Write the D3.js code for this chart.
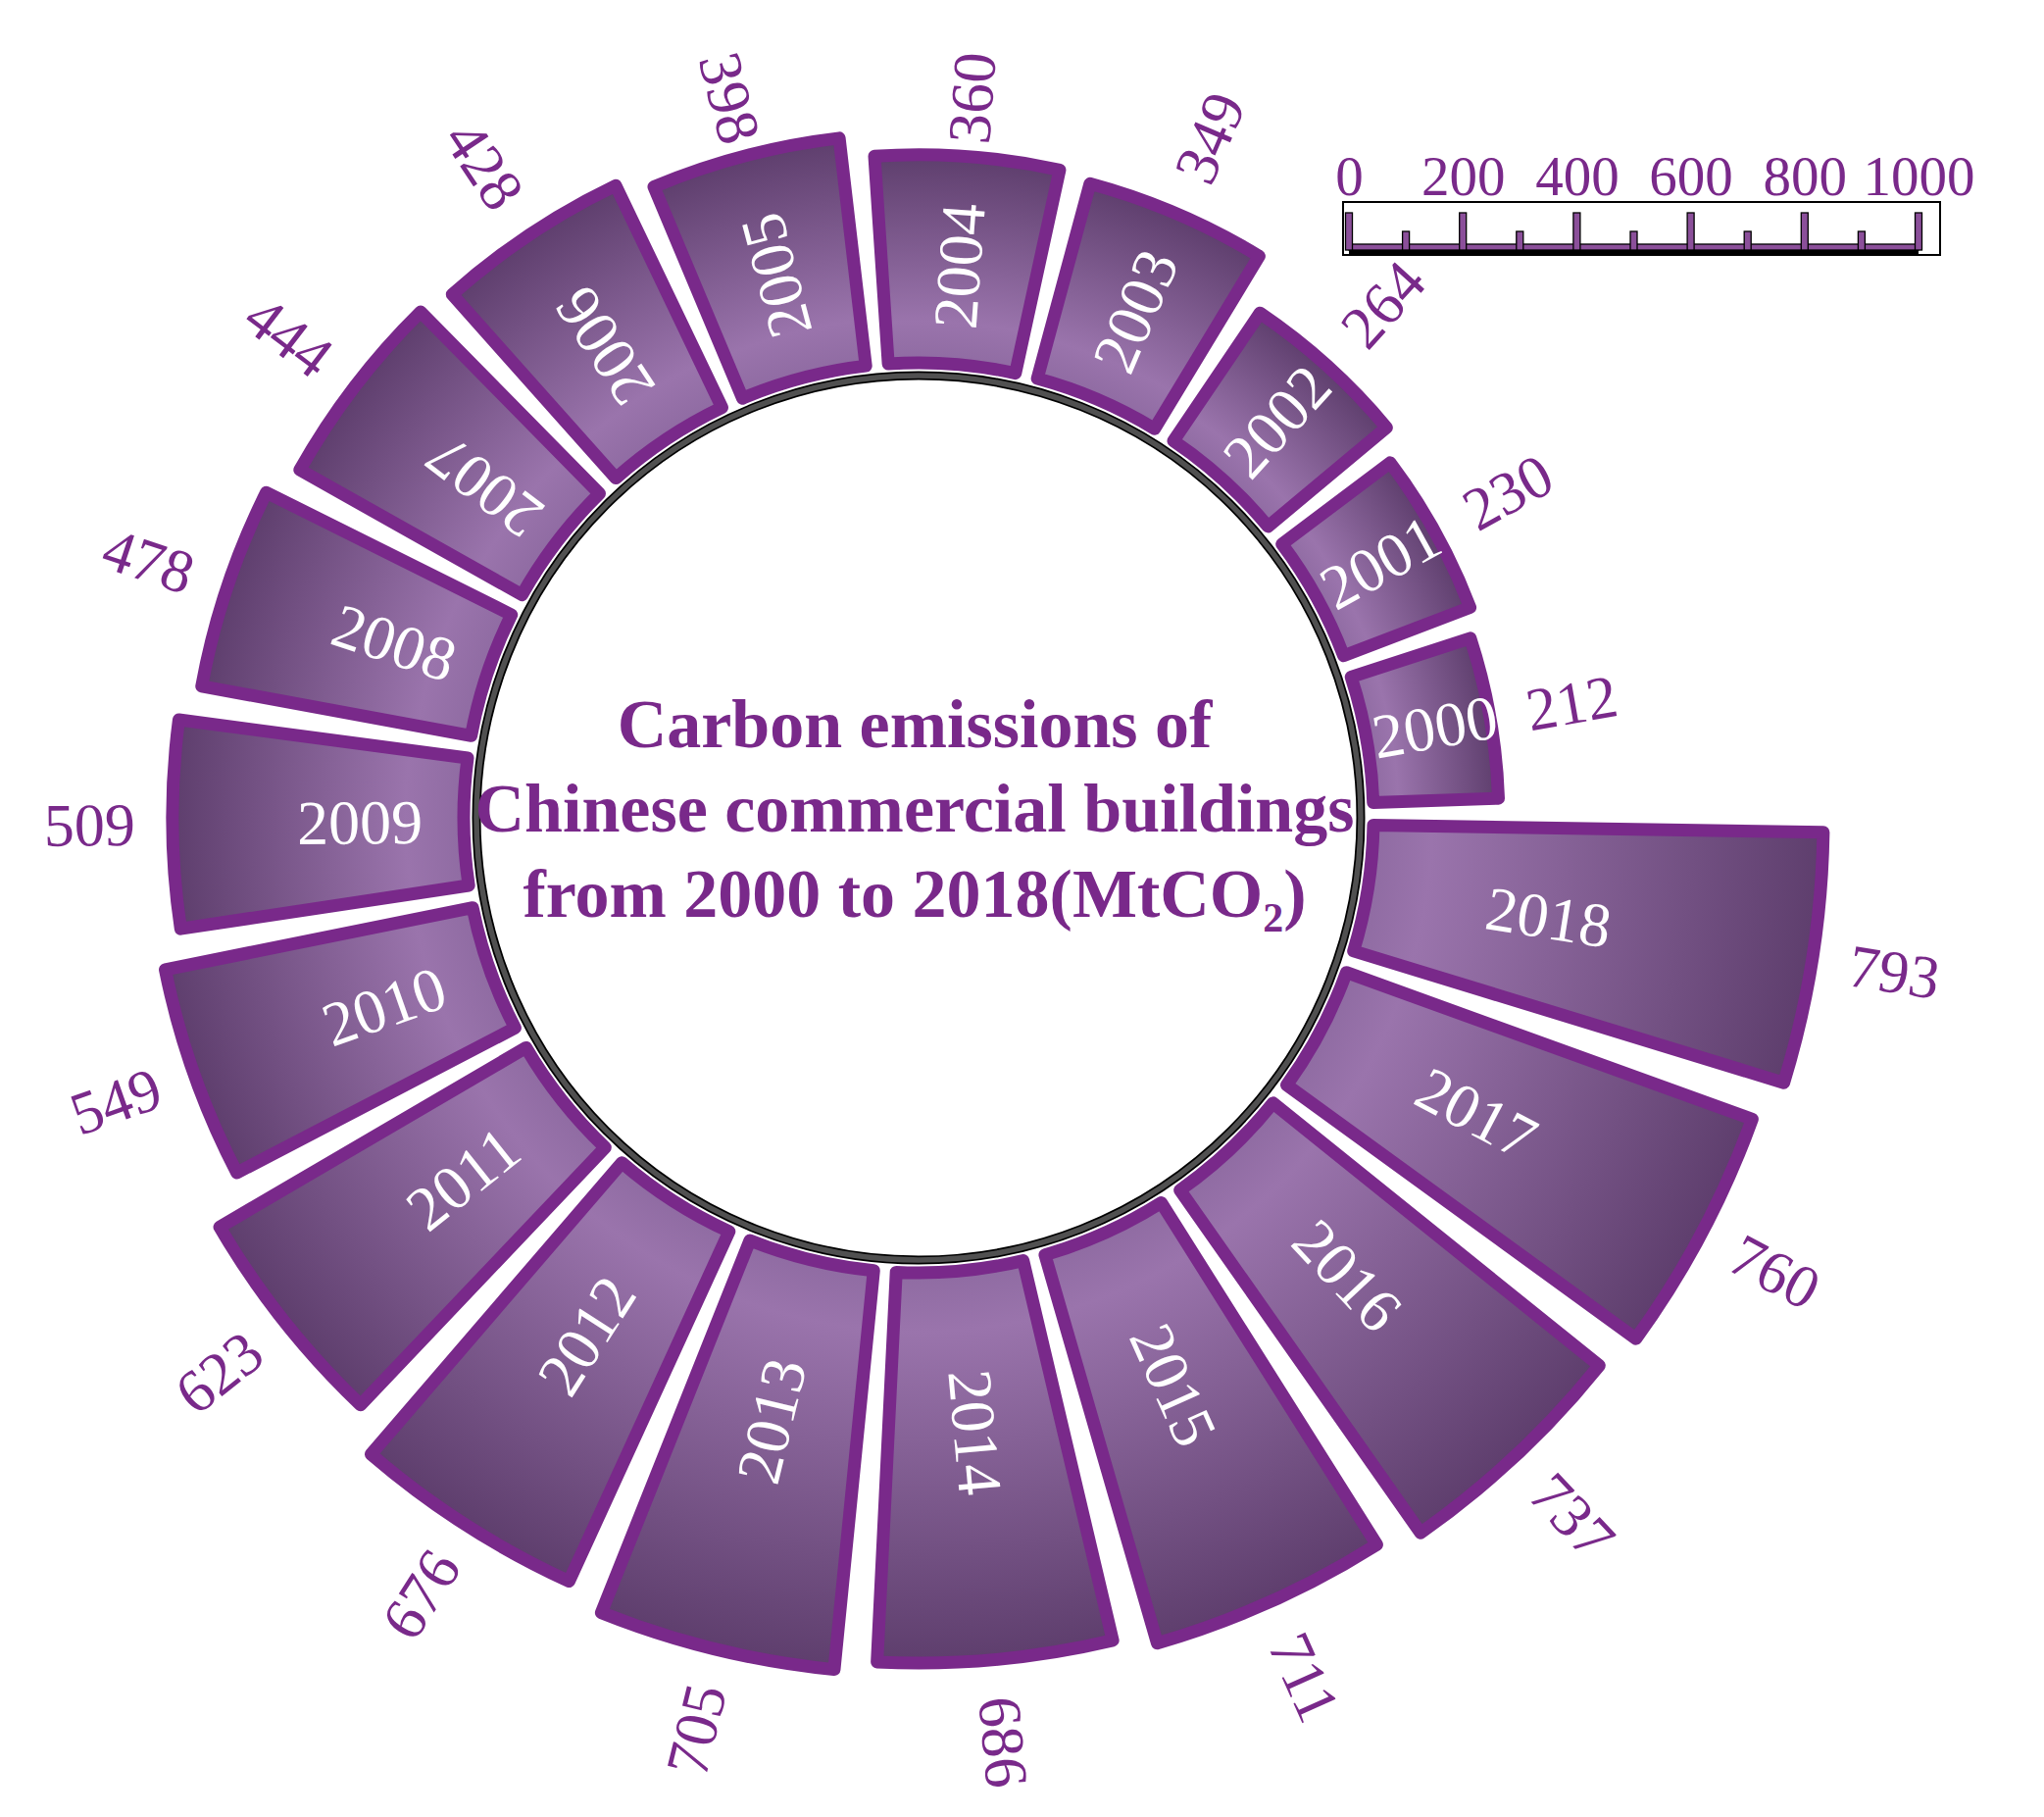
<!DOCTYPE html>
<html>
<head>
<meta charset="utf-8">
<script src="https://cdn.jsdelivr.net/npm/d3@7"></script>
<style>
  html, body { margin: 0; padding: 0; background: #ffffff; }
  svg { display: block; }
</style>
</head>
<body>
<svg id="chart" width="2085" height="1853"></svg>
<script>
// ---------------- data ----------------
const years = ["2000","2001","2002","2003","2004","2005","2006","2007","2008","2009",
               "2010","2011","2012","2013","2014","2015","2016","2017","2018"];
const emissions = [212,230,264,349,360,398,428,444,478,509,549,623,676,705,686,711,737,760,793];
const legendTicks = [0,200,400,600,800,1000];
const legendMinorTicks = [100,300,500,700,900];
const titleLines = ["Carbon emissions of", "Chinese commercial buildings", "from 2000 to 2018(MtCO"];
const titleSub = "2";
const titleTail = ")";

// ---------------- layout ----------------
const W = 2085, H = 1853;
const cx = 937, cy = 834;
const ringR = 451;
const innerR = 464;
const purple = "#79298a";
const lightFill = "#9a74ac";
const midFill = "#8f6ba2";
const darkFill = "#5e3e6d";
const serif = "'Liberation Serif','Times New Roman',Times,serif";

const svg = d3.select("#chart");
const defs = svg.append("defs");

const data = years.map((y, i) => ({ year: y, value: emissions[i] }));

// angular band scale (d3 angles: clockwise from 12 o'clock); 2000 starts at 3 o'clock going counter-clockwise
const a0 = Math.PI / 2 - 0.5 * Math.PI / 180;
const angle = d3.scaleBand()
  .domain(years)
  .range([a0, a0 - 2 * Math.PI])
  .paddingInner(0.15)
  .paddingOuter(0.075);

// radial value scale
const radius = d3.scaleLinear().domain([0, 1000]).range([471, 1041]);

const g = svg.append("g").attr("transform", `translate(${cx},${cy})`);

// inner ring
g.append("circle").attr("r", ringR).attr("fill", "#ffffff")
  .attr("stroke", "#000000").attr("stroke-width", 9);
g.append("circle").attr("r", ringR).attr("fill", "none")
  .attr("stroke", "#505050").attr("stroke-width", 5.5);

const arc = d3.arc()
  .innerRadius(innerR)
  .outerRadius(d => radius(d.value))
  .startAngle(d => angle(d.year))
  .endAngle(d => angle(d.year) + angle.bandwidth());

// gradients
data.forEach((d, i) => {
  const ro = radius(d.value);
  const gr = defs.append("radialGradient")
    .attr("id", "grad" + i)
    .attr("gradientUnits", "userSpaceOnUse")
    .attr("cx", 0).attr("cy", 0).attr("r", ro);
  const f0 = innerR / ro;
  const L = ro - innerR;
  gr.append("stop").attr("offset", f0).attr("stop-color", midFill);
  gr.append("stop").attr("offset", (innerR + Math.min(0.2 * L, 60)) / ro).attr("stop-color", lightFill);
  gr.append("stop").attr("offset", 1).attr("stop-color", darkFill);
});

g.selectAll("path.bar")
  .data(data)
  .join("path")
  .attr("class", "bar")
  .attr("d", arc)
  .attr("fill", (d, i) => `url(#grad${i})`)
  .attr("stroke", purple)
  .attr("stroke-width", 13)
  .attr("stroke-linejoin", "round");

const deg = r => r * 180 / Math.PI;
const midAngle = d => angle(d.year) + angle.bandwidth() / 2;

// year labels inside bars
g.selectAll("text.year")
  .data(data)
  .join("text")
  .attr("class", "year")
  .attr("transform", d => {
    const a = midAngle(d);
    const ad = deg(a);
    let r = 490 + 0.35 * (radius(d.value) - innerR);
    if (ad < -40 && ad > -135) r -= 24;
    let rot = ad - 90;
    if (ad < -60 && ad > -180) rot += 180;
    return `translate(${r * Math.sin(a)},${-r * Math.cos(a)}) rotate(${rot})`;
  })
  .attr("text-anchor", "middle")
  .attr("dominant-baseline", "central")
  .attr("font-family", serif)
  .attr("font-size", 64)
  .attr("fill", "#ffffff")
  .text(d => d.year);

// value labels outside bars (kept below the top margin)
g.selectAll("text.value")
  .data(data)
  .join("text")
  .attr("class", "value")
  .attr("transform", d => {
    const a = midAngle(d);
    let r = radius(d.value) + 6.5 + 78;
    const c = Math.cos(a);
    if (c > 0) r = Math.min(r, (cy - 100) / c);
    const ad = deg(a);
    let rot = ad - 90;
    if (ad < 0 && ad > -180) rot += 180;
    return `translate(${r * Math.sin(a)},${-r * Math.cos(a)}) rotate(${rot})`;
  })
  .attr("text-anchor", "middle")
  .attr("dominant-baseline", "central")
  .attr("font-family", serif)
  .attr("font-size", 62)
  .attr("fill", purple)
  .text(d => d.value);

// title in the centre
const titleBase = [762, 848, 935];
titleLines.forEach((t, i) => {
  const tx = svg.append("text")
    .attr("transform", `translate(${cx - 4},${titleBase[i]})`)
    .attr("text-anchor", "middle")
    .attr("font-family", serif)
    .attr("font-weight", "bold")
    .attr("font-size", 70)
    .attr("fill", purple);
  tx.append("tspan").text(t);
  if (i === titleLines.length - 1) {
    tx.append("tspan").attr("font-size", 42).attr("dy", 15).text(titleSub);
    tx.append("tspan").attr("dy", -15).text(titleTail);
  }
});

// ---------------- legend scale bar ----------------
const lx = d3.scaleLinear().domain([0, 1000]).range([1376, 1957]);
const leg = svg.append("g");
leg.append("rect").attr("x", 1370).attr("y", 206).attr("width", 609).attr("height", 54)
  .attr("fill", "none").attr("stroke", "#000").attr("stroke-width", 2);
// baseline with shadow
leg.append("rect").attr("x", lx(0)).attr("y", 254).attr("width", lx(1000) - lx(0)).attr("height", 5)
  .attr("fill", "#000");
leg.append("rect").attr("x", lx(0)).attr("y", 249).attr("width", lx(1000) - lx(0)).attr("height", 6)
  .attr("fill", "#8b4f9a").attr("stroke", "#000").attr("stroke-width", 1.3);
leg.selectAll("rect.major").data(legendTicks).join("rect").attr("class", "major")
  .attr("x", d => lx(d) - 3.5).attr("y", 217).attr("width", 7).attr("height", 38)
  .attr("fill", "#8b4f9a").attr("stroke", "#000").attr("stroke-width", 1.3);
leg.selectAll("rect.minor").data(legendMinorTicks).join("rect").attr("class", "minor")
  .attr("x", d => lx(d) - 3.5).attr("y", 236).attr("width", 7).attr("height", 19)
  .attr("fill", "#8b4f9a").attr("stroke", "#000").attr("stroke-width", 1.3);

const axis = d3.axisTop(lx).tickValues(legendTicks).tickSize(0).tickPadding(0).tickFormat(d3.format("d"));
const axG = svg.append("g").attr("transform", "translate(0,199)").call(axis);
axG.select(".domain").remove();
axG.selectAll("text")
  .attr("font-family", serif)
  .attr("font-size", 57)
  .attr("fill", purple)
  .attr("dy", 0);
</script>
</body>
</html>
